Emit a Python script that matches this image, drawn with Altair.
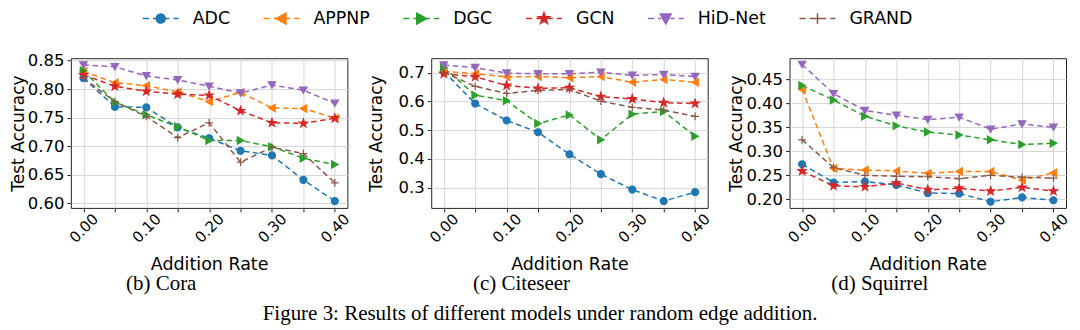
import altair as alt
import pandas as pd

rates = [0.00, 0.05, 0.10, 0.15, 0.20, 0.25, 0.30, 0.35, 0.40]
models = ["ADC", "APPNP", "DGC", "GCN", "HiD-Net", "GRAND"]
colors = ["#1f77b4", "#ff7f0e", "#2ca02c", "#d62728", "#9467bd", "#8c564b"]

# Cora
cora_adc = [0.819, 0.769, 0.768, 0.733, 0.714, 0.692, 0.684, 0.641, 0.604]
cora_appnp = [0.831, 0.811, 0.806, 0.795, 0.778, 0.794, 0.767, 0.766, 0.749]
cora_dgc = [0.832, 0.777, 0.755, 0.734, 0.710, 0.710, 0.699, 0.679, 0.668]
cora_gcn = [0.825, 0.805, 0.796, 0.791, 0.789, 0.762, 0.741, 0.740, 0.749]
cora_hid = [0.842, 0.839, 0.823, 0.816, 0.805, 0.793, 0.807, 0.798, 0.775]
cora_grand = [0.819, 0.778, 0.752, 0.715, 0.741, 0.672, 0.698, 0.687, 0.636]

# Citeseer
cite_adc = [0.705, 0.593, 0.534, 0.493, 0.416, 0.347, 0.293, 0.253, 0.284]
cite_appnp = [0.705, 0.697, 0.686, 0.687, 0.683, 0.687, 0.667, 0.677, 0.667]
cite_dgc = [0.719, 0.622, 0.603, 0.523, 0.553, 0.467, 0.556, 0.565, 0.479]
cite_gcn = [0.697, 0.686, 0.656, 0.646, 0.648, 0.617, 0.609, 0.596, 0.593]
cite_hid = [0.727, 0.718, 0.699, 0.697, 0.697, 0.702, 0.691, 0.694, 0.687]
cite_grand = [0.702, 0.653, 0.628, 0.639, 0.642, 0.601, 0.580, 0.570, 0.548]

# Squirrel
squi_adc = [0.273, 0.235, 0.237, 0.230, 0.213, 0.212, 0.195, 0.204, 0.198]
squi_appnp = [0.429, 0.264, 0.261, 0.259, 0.254, 0.258, 0.258, 0.240, 0.255]
squi_dgc = [0.437, 0.407, 0.373, 0.353, 0.340, 0.334, 0.324, 0.314, 0.317]
squi_gcn = [0.259, 0.228, 0.226, 0.234, 0.220, 0.223, 0.217, 0.225, 0.217]
squi_hid = [0.481, 0.420, 0.385, 0.375, 0.366, 0.371, 0.346, 0.357, 0.350]
squi_grand = [0.324, 0.266, 0.250, 0.248, 0.247, 0.243, 0.250, 0.246, 0.244]

cora_ticks = [0.60, 0.65, 0.70, 0.75, 0.80, 0.85]
cite_ticks = [0.3, 0.4, 0.5, 0.6, 0.7]
squi_ticks = [0.20, 0.25, 0.30, 0.35, 0.40, 0.45]

captions = ["(b) Cora", "(c) Citeseer", "(d) Squirrel"]
fig_caption = "Figure 3: Results of different models under random edge addition."

FONT = "DejaVu Sans"
SERIF = "Liberation Serif"

STAR = ("M0,-1L0.235,-0.324L0.951,-0.309L0.380,0.124L0.588,0.809L0,0.4"
        "L-0.588,0.809L-0.380,0.124L-0.951,-0.309L-0.235,-0.324Z")
PLUS = "M-1,0H1M0,-1V1"
marker_shapes = ["circle", "triangle-left", "triangle-right", STAR, "triangle-down", PLUS]
marker_sizes = [48, 55, 55, 75, 55, 60]

# legend symbols: dashed line with marker in the middle
DASH = "M-2,0H-1.31M-0.86,0H-0.5M0.5,0H0.98M1.43,0H2"
leg_markers = {
    "ADC": "M0.5,0A0.5,0.5 0 1,1 -0.5,0A0.5,0.5 0 1,1 0.5,0Z",
    "APPNP": "M-0.6,0L0.5,-0.6L0.5,0.6Z",
    "DGC": "M0.6,0L-0.5,-0.6L-0.5,0.6Z",
    "GCN": "M0,-0.65L0.153,-0.211L0.618,-0.201L0.247,0.081L0.382,0.526L0,0.26"
           "L-0.382,0.526L-0.247,0.081L-0.618,-0.201L-0.153,-0.211Z",
    "HiD-Net": "M-0.6,-0.5L0.6,-0.5L0,0.6Z",
    "GRAND": "M-0.6,0H0.6M0,-0.6V0.6",
}
expr = "''"
for m in reversed(models):
    expr = f"datum.value === '{m}' ? '{DASH}{leg_markers[m]}' : ({expr})"

legend = alt.Legend(
    title=None,
    orient="none",
    direction="horizontal",
    legendX=80,
    legendY=-50,
    labelFont=FONT,
    labelFontSize=17.4,
    labelColor="#000000",
    symbolSize=324,
    labelOffset=22,
    columnPadding=30,
    symbolType={"expr": expr},
    symbolFillColor={"expr": "scale('color', datum.value)"},
    symbolStrokeColor={"expr": "scale('color', datum.value)"},
    symbolStrokeWidth=1.5,
    symbolDash=[1, 0],
    symbolOpacity=1,
)

color_scale = alt.Scale(domain=models, range=colors)


def panel(series, ydomain, yticks, yfmt, caption, ymin_extent):
    rows = []
    for m, vals in zip(models, series):
        for r, v in zip(rates, vals):
            rows.append({"rate": r, "acc": v, "model": m})
    df = pd.DataFrame(rows)
    x = alt.X(
        "rate:Q",
        scale=alt.Scale(domain=[-0.02, 0.42], nice=False, zero=False),
        axis=alt.Axis(
            values=rates, format=".2f", labelAngle=-45, labelAlign="center",
            labelBaseline="middle", labelPadding=16, labelFontSize=15,
            title="Addition Rate", titlePadding=10, titleFontSize=17.5,
        ),
    )
    y = alt.Y(
        "acc:Q",
        scale=alt.Scale(domain=ydomain, nice=False, zero=False),
        axis=alt.Axis(values=yticks, format=yfmt, title="Test Accuracy",
                      titlePadding=0, minExtent=ymin_extent, titleFontSize=17),
    )
    base = alt.Chart(df).encode(x=x, y=y)
    layers = [
        base.mark_line(strokeDash=[5.5, 3.6], strokeWidth=1.5).encode(
            color=alt.Color("model:N", scale=color_scale, legend=legend)
        )
    ]
    for m, c, s, sz in zip(models, colors, marker_shapes, marker_sizes):
        layers.append(
            base.transform_filter(alt.datum.model == m).mark_point(
                shape=s, filled=True, fill=c, stroke=c, strokeWidth=1.2,
                size=sz, opacity=1,
            )
        )
    return alt.layer(*layers).properties(
        width=277,
        height=150,
        title=alt.TitleParams(
            caption, orient="bottom", anchor="middle", frame="group", dx=-48,
            font=SERIF, fontSize=21, fontWeight="normal", color="#000000", offset=0,
        ),
    )


p1 = panel([cora_adc, cora_appnp, cora_dgc, cora_gcn, cora_hid, cora_grand],
           [0.592, 0.854], cora_ticks, ".2f", captions[0], 30)
p2 = panel([cite_adc, cite_appnp, cite_dgc, cite_gcn, cite_hid, cite_grand],
           [0.229, 0.751], cite_ticks, ".1f", captions[1], 46)
p3 = panel([squi_adc, squi_appnp, squi_dgc, squi_gcn, squi_hid, squi_grand],
           [0.182, 0.494], squi_ticks, ".2f", captions[2], 30)

chart = alt.hconcat(p1, p2, p3, spacing=13).properties(
    padding={"left": 0, "top": 0, "right": 0, "bottom": 0},
    title=alt.TitleParams(
        fig_caption, orient="bottom", anchor="middle", font=SERIF, fontSize=21,
        fontWeight="normal", color="#000000", offset=9,
    ),
).configure_view(
    stroke="#262626", strokeWidth=1
).configure_axis(
    labelFont=FONT, titleFont=FONT, labelFontSize=16.5, titleFontSize=17,
    titleFontWeight="normal", labelColor="#000000", titleColor="#000000",
    tickColor="#262626", tickSize=4, labelPadding=3, domain=False,
    grid=True, gridColor="#d6d6d6", gridWidth=1,
)

chart.save("out.html", embed_options={"renderer": "svg", "actions": False})
